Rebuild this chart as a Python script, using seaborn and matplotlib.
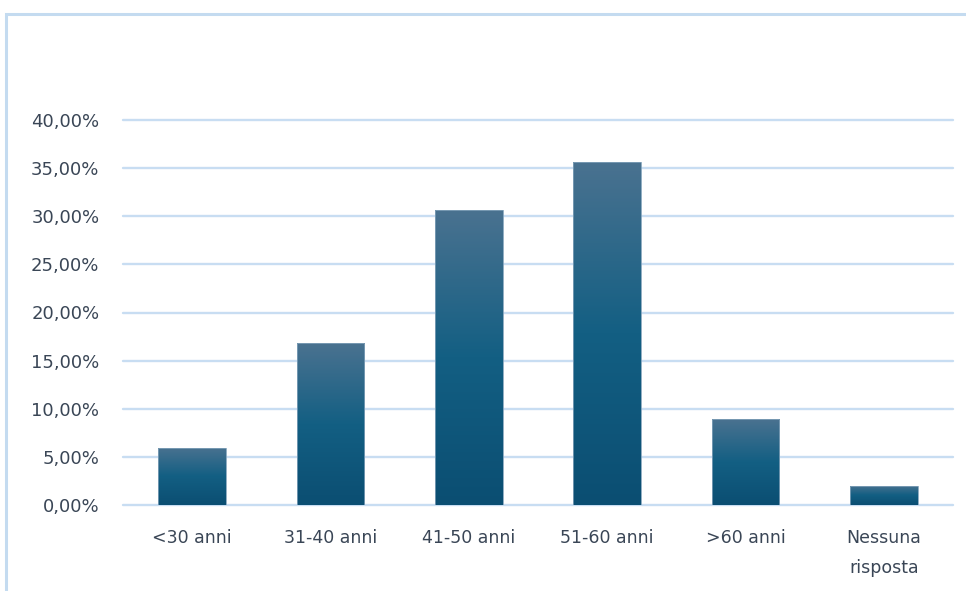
import numpy as np
import pandas as pd
import matplotlib
matplotlib.use("Agg")
import matplotlib.pyplot as plt
from matplotlib.colors import LinearSegmentedColormap
from matplotlib.patches import Rectangle
import seaborn as sns

# Age groups of respondents and share of answers
categories = ["<30 anni", "31-40 anni", "41-50 anni", "51-60 anni", ">60 anni", "Nessuna\nrisposta"]
shares = [0.0594, 0.1683, 0.3069, 0.3564, 0.0891, 0.0198]
y_ticks = [0.0, 0.05, 0.10, 0.15, 0.20, 0.25, 0.30, 0.35, 0.40]

df = pd.DataFrame({"categoria": categories, "quota": shares})

sns.set_theme(style="white")
plt.rcParams["font.family"] = ["DejaVu Sans"]

text_color = "#3a4656"
grid_color = "#c8ddf2"

fig = plt.figure(figsize=(9.66, 5.91), dpi=100)
ax = fig.add_axes([123 / 966, 1 - 505 / 591, 830 / 966, 385 / 591])

sns.barplot(data=df, x="categoria", y="quota", ax=ax, color="#1a6486",
            width=0.49, zorder=3, saturation=1)

ax.set_ylim(0, 0.40)
ax.set_xlim(-0.5, len(categories) - 0.5)
ax.set_yticks(y_ticks)
ax.set_yticklabels([f"{v * 100:.2f}%".replace(".", ",") for v in y_ticks])
ax.yaxis.grid(True, color=grid_color, linewidth=1.7, zorder=0)
for gl in ax.get_ygridlines():
    gl.set_clip_on(False)
ax.set_axisbelow(True)
for s in ax.spines.values():
    s.set_visible(False)
ax.set_xlabel("")
ax.set_ylabel("")
ax.tick_params(axis="y", length=0, pad=17, labelsize=13, labelcolor=text_color)
ax.tick_params(axis="x", length=0, pad=17, labelsize=12.5, labelcolor=text_color)
for lbl in ax.get_xticklabels():
    lbl.set_linespacing(1.85)

# Vertical gradient fill on each bar
cmap = LinearSegmentedColormap.from_list("bar_grad", ["#0b4e72", "#135f83", "#4a7290"])
grad = np.linspace(0, 1, 256).reshape(-1, 1)
for patch in list(ax.patches):
    x0, y0 = patch.get_x(), patch.get_y()
    w, h = patch.get_width(), patch.get_height()
    im = ax.imshow(grad, extent=[x0, x0 + w, y0, y0 + h], origin="lower",
                   cmap=cmap, aspect="auto", zorder=4)
    im.set_clip_path(patch)
    patch.set_edgecolor("#7fa0b8")
    patch.set_linewidth(0.6)
    patch.set_facecolor("none")
    patch.set_zorder(5)
ax.set_xlim(-0.5, len(categories) - 0.5)
ax.set_ylim(0, 0.40)

# Chart area border (top and left edges visible)
fig.patches.append(Rectangle((5.5 / 966, -0.1), 1.2, 1 - 13.5 / 591 + 0.1,
                             transform=fig.transFigure, fill=False,
                             edgecolor="#c4dbf0", linewidth=2.2, zorder=0))

fig.savefig("out.png", dpi=100, facecolor="white")
